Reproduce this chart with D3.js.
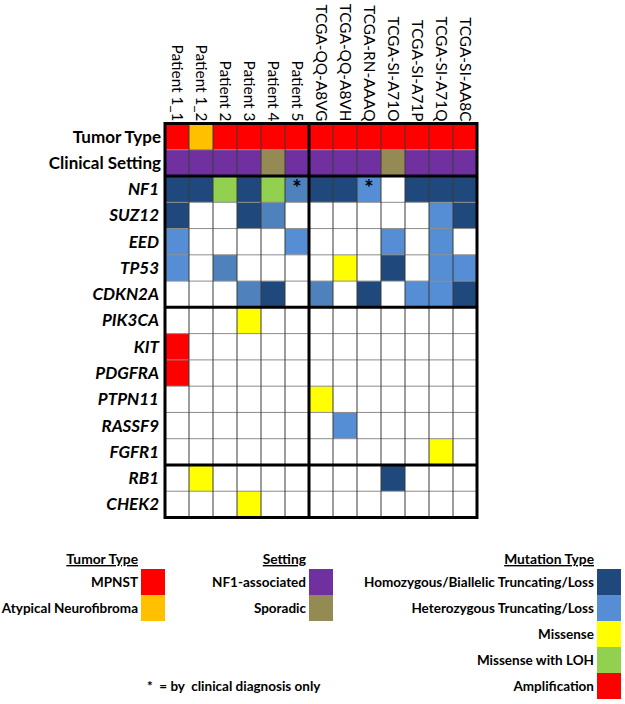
<!DOCTYPE html>
<html>
<head>
<meta charset="utf-8">
<script src="https://cdn.jsdelivr.net/npm/d3@7"></script>
<style>
  html, body { margin: 0; padding: 0; background: #fff; }
  svg text { font-family: Lato, "Open Sans", sans-serif; }
</style>
</head>
<body>
<svg id="chart" width="625" height="704"></svg>
<script>
// ---------- DATA ----------
const samples = ["Patient 1_1", "Patient 1_2", "Patient 2", "Patient 3", "Patient 4", "Patient 5",
  "TCGA-QQ-A8VG", "TCGA-QQ-A8VH", "TCGA-RN-AAAQ", "TCGA-SI-A71O", "TCGA-SI-A71P", "TCGA-SI-A71Q", "TCGA-SI-AA8C"];

// Tumor type: M = MPNST, A = Atypical Neurofibroma
const tumorType = ["M", "A", "M", "M", "M", "M", "M", "M", "M", "M", "M", "M", "M"];
// Clinical setting: N = NF1-associated, S = Sporadic
const clinicalSetting = ["N", "N", "N", "N", "S", "N", "N", "N", "N", "S", "N", "N", "N"];

const genes = ["NF1", "SUZ12", "EED", "TP53", "CDKN2A", "PIK3CA", "KIT", "PDGFRA", "PTPN11", "RASSF9", "FGFR1", "RB1", "CHEK2"];

// Mutation codes: H = Homozygous/Biallelic, T = Heterozygous, t = Heterozygous (darker shade),
// S = Missense, L = Missense with LOH, A = Amplification, "" = none
const NF1    = ["H", "H", "L", "H", "L", "t", "H", "H", "T", "", "H", "H", "H"];
const SUZ12  = ["H", "", "", "H", "t", "", "", "", "", "", "", "T", "H"];
const EED    = ["T", "", "", "", "", "T", "", "", "", "T", "", "T", ""];
const TP53   = ["T", "", "t", "", "", "", "", "S", "", "H", "", "T", "T"];
const CDKN2A = ["", "", "", "t", "H", "", "t", "", "H", "", "T", "T", "H"];
const PIK3CA = ["", "", "", "S", "", "", "", "", "", "", "", "", ""];
const KIT    = ["A", "", "", "", "", "", "", "", "", "", "", "", ""];
const PDGFRA = ["A", "", "", "", "", "", "", "", "", "", "", "", ""];
const PTPN11 = ["", "", "", "", "", "", "S", "", "", "", "", "", ""];
const RASSF9 = ["", "", "", "", "", "", "", "T", "", "", "", "", ""];
const FGFR1  = ["", "", "", "", "", "", "", "", "", "", "", "S", ""];
const RB1    = ["", "S", "", "", "", "", "", "", "", "H", "", "", ""];
const CHEK2  = ["", "", "", "S", "", "", "", "", "", "", "", "", ""];
const geneValues = [NF1, SUZ12, EED, TP53, CDKN2A, PIK3CA, KIT, PDGFRA, PTPN11, RASSF9, FGFR1, RB1, CHEK2];

// Asterisk (clinical diagnosis only) on NF1
const asteriskNF1 = ["Patient 5", "TCGA-RN-AAAQ"];

// Legends
const tumorLegend = [["M", "MPNST"], ["A", "Atypical Neurofibroma"]];
const settingLegend = [["N", "NF1-associated"], ["S", "Sporadic"]];
const mutationLegend = [["H", "Homozygous/Biallelic Truncating/Loss"], ["T", "Heterozygous Truncating/Loss"],
  ["S", "Missense"], ["L", "Missense with LOH"], ["A", "Amplification"]];

// ---------- COLOURS ----------
const tumorColor = d3.scaleOrdinal().domain(["M", "A"]).range(["#ff0000", "#ffc000"]);
const settingColor = d3.scaleOrdinal().domain(["N", "S"]).range(["#7030a0", "#948a54"]);
const mutColor = d3.scaleOrdinal().domain(["H", "T", "t", "S", "L", "A", ""])
  .range(["#1f497d", "#558ed5", "#4f81bd", "#ffff00", "#92d050", "#ff0000", "#ffffff"]);

// ---------- LAYOUT ----------
const svg = d3.select("#chart");
const rowsAll = ["Tumor Type", "Clinical Setting", ...genes];

const x = d3.scaleBand().domain(samples).range([165, 477]);
const y = d3.scaleBand().domain(rowsAll).range([123.5, 517.5]);

// cells
const cells = [];
samples.forEach((s, i) => {
  cells.push({ row: "Tumor Type", col: s, fill: tumorColor(tumorType[i]) });
  cells.push({ row: "Clinical Setting", col: s, fill: settingColor(clinicalSetting[i]) });
  genes.forEach((g, gi) => {
    cells.push({ row: g, col: s, fill: mutColor(geneValues[gi][i]) });
  });
});

svg.append("g").selectAll("rect").data(cells).join("rect")
  .attr("x", d => x(d.col))
  .attr("y", d => y(d.row))
  .attr("width", x.bandwidth())
  .attr("height", y.bandwidth())
  .attr("fill", d => d.fill);

// thin gridlines
const grid = svg.append("g");
grid.selectAll("line.h").data(rowsAll.slice(1)).join("line")
  .attr("x1", x.range()[0]).attr("x2", x.range()[1])
  .attr("y1", d => y(d)).attr("y2", d => y(d))
  .attr("stroke", "#8c8c8c").attr("stroke-width", 1);
grid.selectAll("line.v").data(samples.slice(1)).join("line")
  .attr("y1", y.range()[0]).attr("y2", y.range()[1])
  .attr("x1", d => x(d)).attr("x2", d => x(d))
  .attr("stroke", "#3a3a3a").attr("stroke-width", 1);

// thick separators
const thickRows = ["NF1", "PIK3CA", "RB1"];
grid.selectAll("line.th").data(thickRows).join("line")
  .attr("x1", x.range()[0]).attr("x2", x.range()[1])
  .attr("y1", d => y(d)).attr("y2", d => y(d))
  .attr("stroke", "#000").attr("stroke-width", 3);
grid.append("line")
  .attr("x1", x("TCGA-QQ-A8VG")).attr("x2", x("TCGA-QQ-A8VG"))
  .attr("y1", y.range()[0]).attr("y2", y.range()[1])
  .attr("stroke", "#000").attr("stroke-width", 3);
grid.append("rect")
  .attr("x", x.range()[0]).attr("y", y.range()[0])
  .attr("width", x.range()[1] - x.range()[0])
  .attr("height", y.range()[1] - y.range()[0])
  .attr("fill", "none").attr("stroke", "#000").attr("stroke-width", 3);

// asterisks
svg.append("g").selectAll("text").data(asteriskNF1).join("text")
  .attr("x", d => x(d) + x.bandwidth() / 2)
  .attr("y", y("NF1") + 20)
  .attr("text-anchor", "middle")
  .attr("font-size", 22).attr("font-weight", "bold")
  .text("*");

// column labels
svg.append("g").selectAll("text").data(samples).join("text")
  .attr("transform", d => `translate(${x(d) + x.bandwidth() / 2},${y.range()[0] - 2}) rotate(90)`)
  .attr("text-anchor", "end")
  .attr("dy", "0.35em")
  .attr("font-size", 15.4)
  .attr("fill", "#000")
  .text(d => d);

// row labels
svg.append("g").selectAll("text").data(rowsAll).join("text")
  .attr("x", d => genes.includes(d) ? 159 : 161)
  .attr("y", d => y(d) + y.bandwidth() / 2)
  .attr("dy", "0.35em")
  .attr("text-anchor", "end")
  .attr("font-size", 17)
  .attr("font-weight", "bold")
  .attr("font-style", d => genes.includes(d) ? "italic" : "normal")
  .text(d => d);

// ---------- LEGENDS ----------
function legend(title, items, colorFn, swatchX) {
  const g = svg.append("g");
  const ly = d3.scaleBand().domain(items.map(d => d[0])).range([569, 569 + 26 * items.length]);
  g.append("text")
    .attr("x", swatchX - 3).attr("y", 564)
    .attr("text-anchor", "end")
    .attr("font-size", 13.8).attr("font-weight", "bold")
    .attr("text-decoration", "underline")
    .text(title);
  g.selectAll("rect").data(items).join("rect")
    .attr("x", swatchX).attr("y", d => ly(d[0]))
    .attr("width", 24).attr("height", ly.bandwidth())
    .attr("fill", d => colorFn(d[0]));
  g.selectAll("text.lab").data(items).join("text")
    .attr("class", "lab")
    .attr("x", swatchX - 3).attr("y", d => ly(d[0]) + ly.bandwidth() / 2)
    .attr("dy", "0.35em")
    .attr("text-anchor", "end")
    .attr("font-size", 13.5).attr("font-weight", "bold")
    .text(d => d[1]);
}
legend("Tumor Type", tumorLegend, tumorColor, 141);
legend("Setting", settingLegend, settingColor, 309);
legend("Mutation Type", mutationLegend, mutColor, 597);

svg.append("text")
  .attr("x", 147).attr("y", 691)
  .attr("font-size", 13.5).attr("font-weight", "bold")
  .style("white-space", "pre")
  .text("*  = by  clinical diagnosis only");
</script>
</body>
</html>
